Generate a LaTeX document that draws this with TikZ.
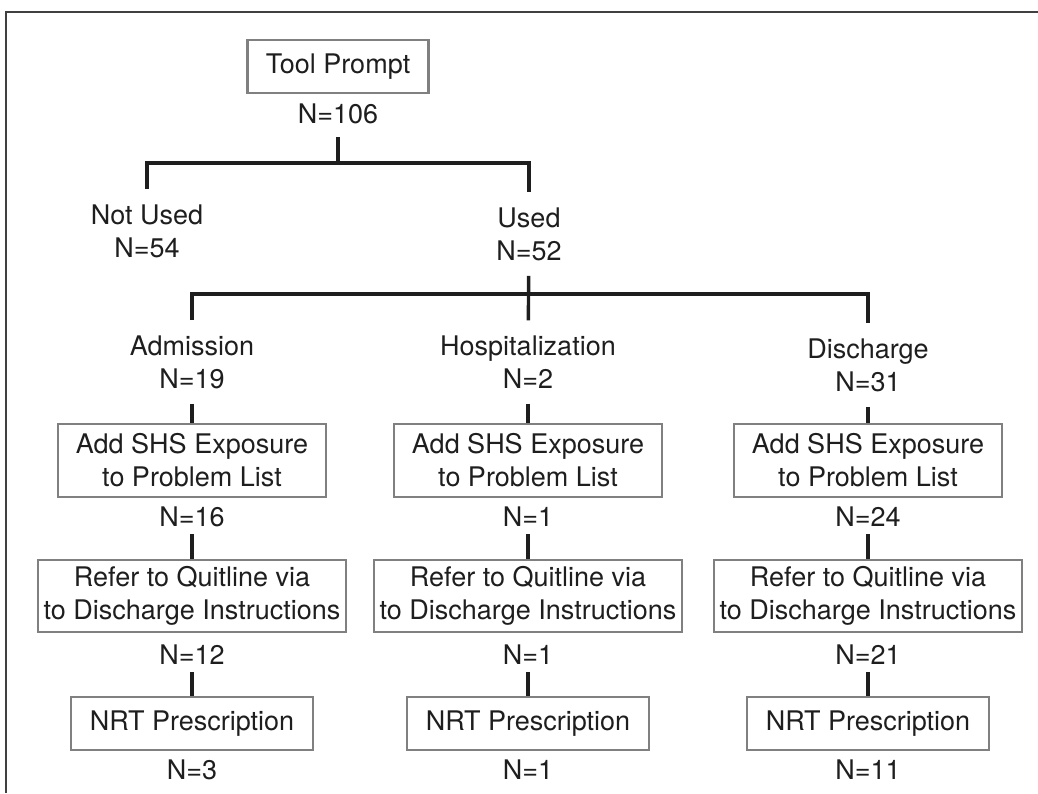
\documentclass[tikz,border=0pt]{standalone}
\usepackage{fontspec}
\setmainfont{TeX Gyre Heros}
\definecolor{boxgray}{RGB}{128,128,128}
\definecolor{inkgray}{RGB}{30,30,30}
\tikzset{
  every node/.style={font=\fontsize{13.5}{16.5}\selectfont, text=inkgray},
  stepbox/.style={draw=boxgray, line width=1.4pt, align=center, inner sep=0pt},
  shsbox/.style={stepbox, minimum width=134pt, minimum height=36.5pt},
  refbox/.style={stepbox, minimum width=154pt, minimum height=36pt},
  nrtbox/.style={stepbox, minimum width=121pt, minimum height=26.5pt},
  count/.style={inner xsep=0pt, inner ysep=3.5pt},
  branch/.style={align=center, inner xsep=0pt, inner ysep=7.5pt},
  link/.style={draw=inkgray, line width=1.7pt},
}
\begin{document}
\begin{tikzpicture}[x=0.5pt,y=-0.5pt]
  \useasboundingbox (0,0) rectangle (1038,793);
  % frame
  \draw[inkgray!85, line width=1.1pt] (6,793) -- (6,12) -- (1038,12);

  \node[stepbox, minimum width=90.5pt, minimum height=26.5pt] (tool) at (338,66.5) {Tool Prompt};
  \node[count] (tooln) at (338,114) {N=106};
  \coordinate (fork1) at (338,163);
  \node[branch] (notused) at (147,231) {Not Used\\N=54};
  \node[branch] (used) at (529,234) {Used\\N=52};
  \coordinate (fork2) at (529,294);

  \draw[link, shorten <=3pt] (tooln) -- (fork1);
  \draw[link] (notused) |- (fork1) -| (used);

  % three columns
  \foreach \c/\x/\ly/\stage/\na/\nb/\nc/\nd in {adm/192/362/Admission/19/16/12/3,
      hosp/528/362/Hospitalization/2/1/1/1, dis/868/365/Discharge/31/24/21/11}{
    \node[branch] (\c-lbl) at (\x,\ly) {\stage\\N=\na};
    \node[shsbox] (\c-shs) at (\x,460.5) {Add SHS Exposure\\to Problem List};
    \node[count] (\c-shsn) at (\x,517) {N=\nb};
    \node[refbox] (\c-ref) at (\x,596) {Refer to Quitline via\\to Discharge Instructions};
    \node[count] (\c-refn) at (\x,655) {N=\nc};
    \node[nrtbox] (\c-nrt) at (\x,723.5) {NRT Prescription};
    \node[count] (\c-nrtn) at (\x,770) {N=\nd};
    \draw[link] (\c-lbl) -- (\c-shs);
    \draw[link] (\c-shsn) -- (\c-ref);
    \draw[link] (\c-refn) -- (\c-nrt);
  }

  \draw[link] (used) -- (hosp-lbl);
  \draw[link] (adm-lbl) |- (fork2) -| (dis-lbl);
\end{tikzpicture}
\end{document}
